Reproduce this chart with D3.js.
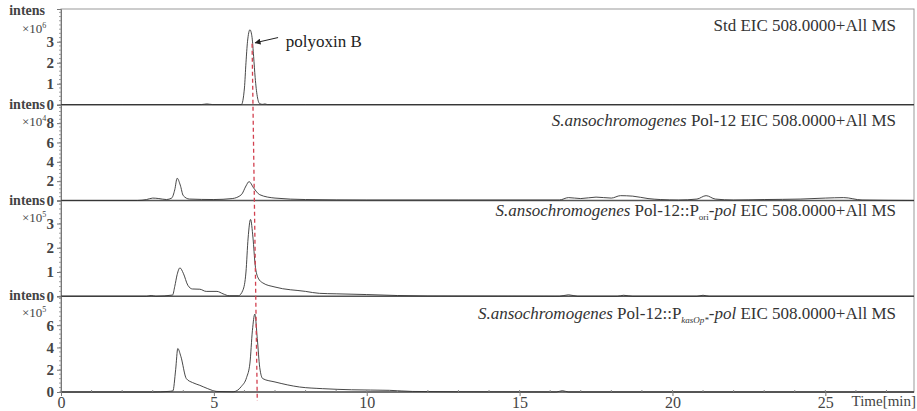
<!DOCTYPE html>
<html>
<head>
<meta charset="utf-8">
<script src="https://cdn.jsdelivr.net/npm/d3@7"></script>
<style>
  body { margin: 0; background: #fff; }
  svg text { font-family: "Times New Roman", "Liberation Serif", "DejaVu Serif", serif; fill: #222; }
</style>
</head>
<body>
<svg id="chart"></svg>
<script>
// x range of the run (min)
const timeDomain = [0, 27.9];
const timeTicks = [0, 5, 10, 15, 20, 25];

// panel 1: standard, x10^6
const stdTime = [0, 2, 4.6, 4.77, 4.95, 5.9, 6.0, 6.05, 6.1, 6.18, 6.25, 6.3, 6.35, 6.42, 6.5, 6.6, 6.67, 6.75, 8, 12, 16, 20, 24, 27.9];
const stdValue = [0.01, 0.01, 0.01, 0.04, 0.01, 0.01, 0.8, 2.0, 3.0, 3.57, 3.2, 2.3, 1.3, 0.4, 0.05, 0.02, 0.04, 0.01, 0.01, 0.01, 0.01, 0.01, 0.01, 0.01];

// panel 2: Pol-12, x10^4
const pol12Time = [0, 2.5, 2.8, 3.0, 3.2, 3.45, 3.62, 3.72, 3.8, 3.9, 4.0, 4.2, 5.0, 5.6, 5.9, 6.05, 6.15, 6.3, 6.5, 7.0, 8.0, 10, 13, 16.3, 16.6, 17.0, 17.5, 18.0, 18.3, 18.7, 19.2, 19.6, 20.2, 20.8, 21.1, 21.4, 22, 23, 24.2, 25.0, 25.6, 26.2, 27.9];
const pol12Value = [0, 0, 0.1, 0.25, 0.2, 0.1, 0.25, 1.1, 2.3, 1.6, 0.5, 0.15, 0.1, 0.2, 0.6, 1.5, 1.95, 1.3, 0.6, 0.25, 0.1, 0.05, 0.05, 0.05, 0.3, 0.2, 0.35, 0.25, 0.5, 0.45, 0.2, 0.1, 0.05, 0.15, 0.5, 0.15, 0.05, 0.1, 0.15, 0.25, 0.3, 0.05, 0];

// panel 3: Pol-12::P_ori-pol, x10^5
const oriTime = [0, 2.8, 2.95, 3.1, 3.65, 3.72, 3.8, 3.89, 4.0, 4.15, 4.3, 4.54, 4.75, 5.1, 5.3, 5.5, 5.8, 5.95, 6.05, 6.12, 6.2, 6.28, 6.35, 6.45, 6.6, 7.0, 8.0, 8.45, 9.0, 10, 11, 12, 16.3, 16.6, 16.9, 18.2, 18.4, 18.7, 20.8, 21.0, 21.2, 27.9];
const oriValue = [0, 0, 0.03, 0, 0.05, 0.4, 0.9, 1.17, 0.95, 0.45, 0.3, 0.29, 0.2, 0.2, 0.1, 0.02, 0.02, 0.25, 1.0, 2.4, 3.17, 2.4, 1.3, 0.75, 0.55, 0.38, 0.2, 0.12, 0.1, 0.07, 0.03, 0.01, 0, 0.06, 0, 0, 0.04, 0, 0, 0.04, 0, 0];

// panel 4: Pol-12::P_kasOp*-pol, x10^5
const kasTime = [0, 3.0, 3.5, 3.66, 3.75, 3.82, 3.92, 4.1, 4.3, 4.54, 4.8, 5.1, 5.63, 5.9, 6.07, 6.18, 6.26, 6.34, 6.42, 6.5, 6.6, 7.0, 7.8, 8.56, 9.5, 10.75, 11.5, 13, 16.2, 16.4, 16.6, 20, 27.9];
const kasValue = [0, 0, 0.05, 0.1, 2.0, 3.9, 3.2, 1.2, 0.85, 0.6, 0.3, 0.05, 0.02, 0.5, 1.3, 2.6, 5.5, 7.0, 4.8, 2.2, 1.2, 0.9, 0.45, 0.3, 0.2, 0.15, 0.05, 0.02, 0, 0.12, 0, 0, 0];

const panelTops = [4.56, 9.9, 3.95, 8.6];
const panelTicks = [[0, 1, 2, 3], [0, 2, 4, 6, 8], [0, 1, 2, 3], [0, 2, 4, 6]];
const panelMinor = [0.2, 0.4, 0.2, 0.4];
const panelExp = ["6", "4", "5", "5"];

const serif = "'Times New Roman', 'Liberation Serif', 'DejaVu Serif', serif";
const width = 917, height = 411;
const margin = {top: 9, right: 3, bottom: 19, left: 61};
const svg = d3.select("#chart").attr("width", width).attr("height", height)
  .attr("font-family", serif);

const x = d3.scaleLinear().domain(timeDomain).range([margin.left, width - margin.right]);
const panels = d3.range(4);
const band = d3.scaleBand().domain(panels).range([margin.top, height - margin.bottom]);

const series = [
  {t: stdTime, v: stdValue},
  {t: pol12Time, v: pol12Value},
  {t: oriTime, v: oriValue},
  {t: kasTime, v: kasValue}
];

// outer frame
svg.append("rect")
  .attr("x", margin.left).attr("y", margin.top)
  .attr("width", width - margin.right - margin.left)
  .attr("height", height - margin.bottom - margin.top)
  .attr("fill", "none").attr("stroke", "#999").attr("stroke-width", 1);

const yScales = [];
panels.forEach(i => {
  const top = band(i), bottom = top + band.bandwidth();
  const y = d3.scaleLinear().domain([0, panelTops[i]]).range([bottom, top]);
  yScales.push(y);
  const g = svg.append("g");

  // left axis, major and minor ticks
  const ax = g.append("g").attr("transform", `translate(${margin.left},0)`);
  ax.call(d3.axisLeft(y).tickValues(panelTicks[i]).tickSize(4).tickPadding(3).tickFormat(d3.format("d")));
  ax.attr("font-family", serif);
  ax.select(".domain").attr("stroke", "#777");
  ax.selectAll(".tick line").attr("stroke", "#777");
  ax.selectAll(".tick text")
    .style("font-family", serif).style("font-size", "15px")
    .style("font-weight", "bold").style("fill", "#444");
  const minors = d3.range(0, panelTops[i], panelMinor[i]);
  ax.selectAll(".minor").data(minors).join("line")
    .attr("class", "minor")
    .attr("x1", -2).attr("x2", 0)
    .attr("y1", d => y(d)).attr("y2", d => y(d))
    .attr("stroke", "#888").attr("stroke-width", 0.8);

  // baseline
  g.append("line")
    .attr("x1", margin.left).attr("x2", width - margin.right)
    .attr("y1", y(0)).attr("y2", y(0))
    .attr("stroke", "#555").attr("stroke-width", 1.4);

  // trace
  const pts = series[i].t.map((t, k) => [t, series[i].v[k]]);
  g.append("path")
    .datum(pts)
    .attr("fill", "none").attr("stroke", "#333").attr("stroke-width", 0.9)
    .attr("d", d3.line().x(d => x(d[0])).y(d => y(d[1])).curve(d3.curveMonotoneX));

  // intens / x10^n
  g.append("text").attr("x", 45).attr("y", top + (i === 0 ? 6 : 4))
    .attr("text-anchor", "end")
    .style("font-size", "14px").style("font-weight", "bold").style("fill", "#444")
    .text("intens");
  const mult = g.append("text").attr("x", 22).attr("y", top + (i === 0 ? 24 : 21))
    .style("font-size", "13px").style("fill", "#444");
  mult.append("tspan").text("×10");
  mult.append("tspan").attr("dy", -5).style("font-size", "8px").text(panelExp[i]);
});

// panel titles
const titleY = [31, 126, 216, 319];
const titles = [
  [{t: "Std EIC 508.0000+All MS"}],
  [{t: "S.ansochromogenes", i: true}, {t: " Pol-12 EIC 508.0000+All MS"}],
  [{t: "S.ansochromogenes", i: true}, {t: " Pol-12::P"}, {t: "ori", s: true}, {t: "-pol", i: true}, {t: " EIC 508.0000+All MS"}],
  [{t: "S.ansochromogenes", i: true}, {t: " Pol-12::P"}, {t: "kasOp*", s: true, i: true}, {t: "-pol", i: true}, {t: " EIC 508.0000+All MS"}]
];
titles.forEach((parts, i) => {
  const tx = svg.append("text").attr("x", 896).attr("y", titleY[i])
    .attr("text-anchor", "end").style("font-size", "17px").style("fill", "#333");
  let sub = false;
  parts.forEach(p => {
    const span = tx.append("tspan").text(p.t);
    if (p.i) span.style("font-style", "italic");
    if (p.s) { span.attr("dy", 4).style("font-size", "9px"); sub = true; }
    else if (sub) { span.attr("dy", -4); sub = false; }
  });
});

// x axis
const xa = svg.append("g").attr("transform", `translate(0,${height - margin.bottom})`);
xa.call(d3.axisBottom(x).tickValues(timeTicks).tickSize(4).tickPadding(1).tickFormat(d3.format("d")));
xa.attr("font-family", serif);
xa.select(".domain").remove();
xa.selectAll(".tick line").attr("stroke", "#777");
xa.selectAll(".tick text").style("font-family", serif).style("font-size", "16px").style("fill", "#444");
xa.selectAll(".minor").data(d3.range(0, timeDomain[1], 1)).join("line")
  .attr("class", "minor").attr("x1", d => x(d)).attr("x2", d => x(d))
  .attr("y1", -2).attr("y2", 0).attr("stroke", "#888");
svg.append("text").attr("x", 916).attr("y", 406).attr("text-anchor", "end")
  .style("font-size", "15px").style("fill", "#444").text("Time[min]");

// red dashed reference line through the polyoxin B peak
svg.append("line")
  .attr("x1", x(6.25)).attr("y1", yScales[0](2.9))
  .attr("x2", x(6.42)).attr("y2", height - 10)
  .attr("stroke", "#d2404f").attr("stroke-width", 1.3).attr("stroke-dasharray", "4,3");

// annotation
const y0 = yScales[0];
svg.append("defs").append("marker").attr("id", "ah")
  .attr("viewBox", "0 0 10 10").attr("refX", 9).attr("refY", 5)
  .attr("markerWidth", 6).attr("markerHeight", 6).attr("orient", "auto")
  .append("path").attr("d", "M0,0 L10,5 L0,10 z").attr("fill", "#222");
svg.append("line")
  .attr("x1", x(7.1)).attr("y1", y0(3.2))
  .attr("x2", x(6.35)).attr("y2", y0(2.95))
  .attr("stroke", "#222").attr("stroke-width", 1).attr("marker-end", "url(#ah)");
svg.append("text").attr("x", x(7.35)).attr("y", 47)
  .style("font-size", "17px").style("fill", "#222").text("polyoxin B");
</script>
</body>
</html>
